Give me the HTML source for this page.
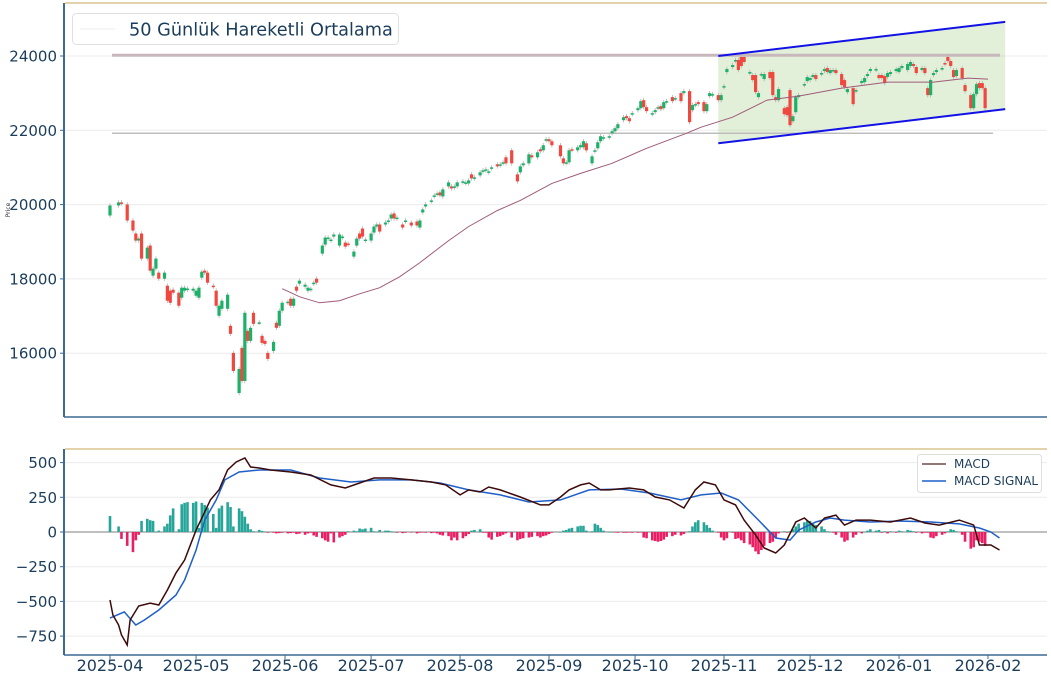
<!DOCTYPE html>
<html><head><meta charset="utf-8">
<style>
html,body{margin:0;padding:0;background:#fff;}
svg{display:block;font-family:"DejaVu Sans","Liberation Sans",sans-serif;}
</style></head>
<body>
<svg id="chart" width="1051" height="678" viewBox="0 0 1051 678" xmlns="http://www.w3.org/2000/svg">
  <g id="price-panel"></g>
  <g id="macd-panel"></g>
</svg>
<script>
// ---- data (days since 2025-04-01) ----
const candleDays=[0,3,4,6,8,9,10,11,13,14,15,16,17,19,20,21,22,24,25,26,27,29,30,31,32,33,34,36,37,38,39,41,42,43,45,46,47,48,49,50,52,53,54,55,57,58,59,60,62,63,64,65,66,68,69,70,71,72,74,75,76,77,78,80,81,82,83,85,86,87,88,89,91,92,93,94,96,97,98,99,100,102,103,105,107,108,109,110,112,113,114,115,116,118,119,120,121,123,124,125,126,127,129,130,131,132,133,135,136,137,138,140,142,143,144,146,147,149,150,151,152,153,154,157,158,159,160,161,163,164,165,166,168,169,170,171,172,174,175,176,177,179,180,181,182,184,185,186,187,189,190,191,192,193,194,196,197,199,200,202,203,204,205,207,208,209,210,212,213,214,215,217,218,219,220,221,223,224,225,226,227,228,230,231,232,233,235,236,237,238,239,240,242,243,244,245,246,248,249,250,251,252,253,255,256,257,259,260,262,263,264,265,267,268,269,270,271,272,274,275,276,278,279,280,281,283,284,285,286,287,288,290,291,292,293,294,295,297,298,300,301,302,303,304,305];
const opens=[19707,19977,20058,20004,19572,19221,19032,19221,18546,18897,18087,18276,18168,18006,17817,17682,17709,17628,17493,17682,17709,17682,17547,17493,18033,18222,18168,17817,17682,17007,17196,17196,16737,16008,14928,16143,15252,16602,16332,17088,16818,16467,16332,16008,16062,16818,16737,17142,17358,17466,17277,17790,17871,17790,17682,17709,17871,18006,18681,18924,19086,19032,19140,18897,19113,18978,18951,18600,18897,19221,19356,19032,19032,19248,19410,19464,19464,19545,19626,19761,19626,19464,19545,19518,19545,19383,19788,19950,20085,20220,20274,20328,20220,20490,20490,20463,20490,20598,20571,20571,20814,20706,20787,20895,20922,20868,20976,21084,21057,21111,21273,21462,20814,20868,21057,21111,21327,21273,21489,21462,21732,21759,21705,21597,21246,21111,21138,21489,21462,21543,21543,21651,21111,21435,21516,21705,21786,21813,21921,21975,22056,22272,22380,22326,22434,22542,22596,22812,22623,22434,22488,22596,22650,22596,22758,22893,22839,23001,23001,23055,22542,22677,22758,22758,22515,22920,22947,22947,22812,23163,23568,23703,23865,23892,23973,23973,23541,23487,23487,22893,23487,23379,23568,23568,22893,22812,22596,22623,23082,22245,22488,22893,23217,23325,23352,23433,23487,23514,23595,23676,23541,23595,23622,23514,23352,23028,23136,23055,23271,23298,23460,23595,23622,23487,23487,23460,23433,23514,23595,23568,23676,23622,23730,23784,23703,23622,23676,23136,22947,23487,23568,23649,23811,23973,23865,23622,23460,23676,23217,22947,22596,22974,23271,23271,23136];
const closes=[19977,20058,20031,19572,19302,19032,19086,18546,18843,18222,18276,18546,18006,18168,17412,17358,17628,17277,17763,17763,17740,17736,17682,17763,18195,18168,17898,17790,17277,17277,17412,17574,16521,15522,15576,15252,17088,16332,16683,16791,16830,16278,16251,15846,16305,16683,17142,17358,17385,17277,17466,17682,17952,17844,17763,17736,17898,17898,18897,19113,19113,19059,19194,19194,19140,18870,18924,18735,19086,19086,19140,19059,19221,19410,19464,19275,19518,19572,19734,19626,19650,19383,19572,19437,19437,19572,19869,20004,20112,20247,20301,20247,20409,20598,20436,20490,20598,20625,20598,20652,20706,20733,20868,20922,20949,20895,21003,21030,21084,21138,21111,21111,20625,21030,21111,21354,21273,21408,21435,21597,21759,21705,21597,21300,21111,21138,21462,21462,21543,21597,21705,21462,21300,21462,21678,21840,21813,21840,21975,22056,22164,22353,22326,22245,22461,22596,22785,22623,22515,22461,22542,22623,22569,22758,22785,22785,22866,22785,23055,22218,22677,22704,22704,22515,22704,23001,22974,22812,22947,23190,23649,23757,23892,23622,23730,23838,23568,23352,23028,23001,23514,23514,23406,22947,22812,23109,22434,22407,22137,22380,22893,22947,23244,23433,23406,23487,23379,23541,23649,23568,23622,23622,23541,23217,23163,23109,22704,23082,23325,23406,23514,23649,23649,23406,23406,23271,23541,23568,23649,23676,23730,23784,23838,23730,23541,23676,23541,22947,23352,23541,23622,23676,23784,23865,23730,23433,23622,23406,23055,22596,22974,23244,23136,23136,22596];
const histValues=[115,40,-50,-100,-145,-60,-20,80,95,85,80,0,10,40,60,120,170,20,200,210,215,210,220,30,210,195,175,130,30,170,190,215,180,40,170,150,110,60,20,5,15,8,3,-5,-5,-10,-8,-5,-10,-8,-5,-15,-12,-20,-10,-5,-25,-35,-45,-60,-70,-10,-75,-40,-30,-20,5,10,5,25,20,25,30,5,0,15,10,10,5,0,-5,-8,-5,-3,-10,-5,-3,-5,-8,-5,-10,-20,-25,-30,-60,-40,-60,-45,-30,-15,10,15,20,-5,-5,-40,-55,-35,-30,-20,-10,-40,-60,-50,-45,-40,-35,-30,-40,-30,-25,-15,-5,0,10,15,25,30,40,45,45,10,5,60,50,30,10,0,0,-3,-5,-5,-5,-3,-5,-5,-3,-40,-45,-60,-65,-70,-65,-55,-35,-30,-20,-25,-15,5,40,70,85,70,50,30,10,-5,-40,-60,-45,-5,-50,-45,-60,-80,-90,-110,-140,-160,-130,-100,-80,-70,-40,-10,5,-5,5,20,40,60,70,80,80,60,50,40,20,5,0,-5,-20,-40,-70,-60,-40,-20,-10,0,10,20,10,15,-5,5,-10,5,-5,10,5,15,10,5,-5,-10,-5,-5,-40,-45,-30,-20,-10,5,20,15,5,-20,-70,-120,-110,-60,-70,-80,-100];
const maDays=[60,66,73,80,87,94,101,108,118,125,135,143,154,164,175,187,201,206,217,229,240,255,271,287,299,306];
const maValues=[17736,17520,17358,17412,17600,17763,18060,18440,19032,19410,19842,20112,20571,20841,21111,21516,21921,22083,22353,22812,22920,23136,23298,23298,23406,23379];
const macdDays=[0,1,3,4,6,7,10,14,17,20,23,26,30,35,38,41,44,47,49,52,56,63,70,77,82,87,92,98,105,112,117,122,125,129,132,136,143,150,153,157,160,164,167,171,174,181,186,190,195,200,204,207,211,214,218,221,225,228,232,235,239,242,246,249,253,256,260,265,272,279,284,289,296,301,303,307,310];
const macdValues=[-490,-598,-670,-742,-814,-634,-533,-512,-526,-418,-295,-202,14,231,303,447,504,533,468,461,447,432,411,339,317,353,389,389,375,360,339,267,303,288,324,303,252,195,195,252,303,339,353,303,303,317,303,252,231,173,303,360,339,231,195,86,-22,-115,-151,-94,72,101,29,101,122,50,86,86,72,101,65,50,86,50,-94,-94,-130];
const signalDays=[0,5,9,12,17,23,26,30,33,37,40,45,52,63,73,84,94,105,115,125,136,146,157,167,178,188,199,206,213,219,226,232,237,240,246,251,256,265,275,286,296,303,307,310];
const signalValues=[-620,-576,-670,-634,-562,-454,-346,-130,86,231,375,432,447,447,389,360,375,375,353,303,267,216,231,303,310,281,231,267,281,231,86,-43,-58,14,72,101,86,72,79,72,58,29,0,-43];
const priceTicks=[16000,18000,20000,22000,24000];
const macdTicks=[-750,-500,-250,0,250,500];
const monthLabels=["2025-04","2025-05","2025-06","2025-07","2025-08","2025-09","2025-10","2025-11","2025-12","2026-01","2026-02"];
const monthDays=[0,30,61,91,122,153,183,214,244,275,306];
const supportLevels=[24020,21920];
const channelDays=[212,312];
const channelUpper=[24000,24920];
const channelLower=[21650,22570];

// ---- axes ----
const NS="http://www.w3.org/2000/svg";
const X0=110, PXDAY=878/306;
const x=d=>X0+d*PXDAY;
const yP=v=>56+(24000-v)*74.3/2000;
const yM=v=>532-v*0.1388;
const AX="#3d6a94", TXT="#1b3d5c", GRID="#ececec";
function mk(parent,tag,attrs){const e=document.createElementNS(NS,tag);for(const k in attrs)e.setAttribute(k,attrs[k]);parent.appendChild(e);return e;}
const P=document.getElementById('price-panel');
const M=document.getElementById('macd-panel');

priceTicks.forEach(v=>{
  const g=mk(P,'line',{x1:65,x2:1047,y1:yP(v),y2:yP(v),stroke:GRID,'stroke-width':1});
  
  
  const t=mk(P,'line',{x1:60,x2:65,y1:yP(v),y2:yP(v),stroke:AX,'stroke-width':1});
  
  
  const l=mk(P,'text',{x:57,y:yP(v)+5.5,'text-anchor':'end','font-size':15,fill:TXT});
  l.textContent=v;
  
  
});
macdTicks.forEach(v=>{
  const g=mk(M,'line',{x1:65,x2:1047,y1:yM(v),y2:yM(v),stroke:v===0?'#999':GRID,'stroke-width':v===0?1.3:1});
  
  
  const t=mk(M,'line',{x1:60,x2:65,y1:yM(v),y2:yM(v),stroke:AX,'stroke-width':1});
  
  
  const l=mk(M,'text',{x:57,y:yM(v)+5.5,'text-anchor':'end','font-size':15,fill:TXT});
  l.textContent=v<0?'\u2212'+Math.abs(v):v;
  
  
});

{
  const pts=[[x(channelDays[0]),yP(channelUpper[0])],[x(channelDays[1]),yP(channelUpper[1])],[x(channelDays[1]),yP(channelLower[1])],[x(channelDays[0]),yP(channelLower[0])]];
  const poly=mk(P,'polygon',{points:pts.map(p=>p.join(',')).join(' '),fill:'rgba(150,200,120,0.28)',stroke:'none'});
  
  
}
supportLevels.forEach((v,i)=>{
  const l=mk(P,'line',{x1:112,x2:i===0?1000:993,y1:yP(v),y2:yP(v),stroke:i===0?'#c8b8bc':'#bdbdbd','stroke-width':i===0?3:1.5});
  
  
});

const up='#1db068', dn='#f0473f';
for(let i=0;i<candleDays.length;i++){
  const o=opens[i], c=closes[i], cx=x(candleDays[i]);
  const col=c>=o?up:dn;
  const hi=Math.max(o,c)+60, lo=Math.min(o,c)-60;
  const w=mk(P,'line',{x1:cx,x2:cx,y1:yP(hi),y2:yP(lo),stroke:'#b0b0b0','stroke-width':0.8});
  
  
  const top=yP(Math.max(o,c)), h=Math.max(1.5,yP(Math.min(o,c))-top);
  const r=mk(P,'rect',{x:cx-1.6,y:top,width:3.2,height:h,fill:col});
  
  
}
{
  const d=maDays.map((dd,i)=>(i?'L':'M')+x(dd).toFixed(1)+','+yP(maValues[i]).toFixed(1)).join('');
  const p=mk(P,'path',{d:d,fill:'none',stroke:'#a05a7a','stroke-width':1});
  
  
}
[channelUpper,channelLower].forEach((arr,i)=>{
  const l=mk(P,'line',{x1:x(channelDays[0]),x2:x(channelDays[1]),y1:yP(arr[0]),y2:yP(arr[1]),stroke:'#1212e6','stroke-width':2});
  
  
});

for(let i=0;i<candleDays.length;i++){
  const v=histValues[i], cx=x(candleDays[i]);
  const y1=yM(Math.max(v,0)), y2=yM(Math.min(v,0));
  const r=mk(M,'rect',{x:cx-1.3,y:y1,width:2.6,height:Math.max(0.5,y2-y1),fill:v>=0?'#26a69a':'#e91e63'});
  
  
}
function line(days,vals,color,name){
  const d=days.map((dd,i)=>(i?'L':'M')+x(dd).toFixed(1)+','+yM(vals[i]).toFixed(1)).join('');
  const p=mk(M,'path',{d:d,fill:'none',stroke:color,'stroke-width':1.5});
  
  
}
line(signalDays,signalValues,'#1f5fc8','macd-signal-line');
line(macdDays,macdValues,'#3d0a0a','macd-line');

[[P,3,417],[M,449,655]].forEach(([g,t,b])=>{
  const s1=mk(g,'line',{x1:65,x2:1047,y1:t,y2:t,stroke:'#e2d3ab','stroke-width':2});
  
  
  const s2=mk(g,'line',{x1:64,x2:64,y1:t,y2:b,stroke:AX,'stroke-width':2});
  
  
  const s3=mk(g,'line',{x1:64,x2:1047,y1:b,y2:b,stroke:AX,'stroke-width':1.5});
  
  
});
monthLabels.forEach((m,i)=>{
  const cx=x(monthDays[i]);
  const t=mk(M,'line',{x1:cx,x2:cx,y1:655,y2:659,stroke:AX,'stroke-width':1});
  
  
  const l=mk(M,'text',{x:cx,y:671,'text-anchor':'middle','font-size':16,fill:TXT});
  l.textContent=m;
  
  
});
{
  const t=mk(P,'text',{x:10,y:210,'font-size':6,fill:'#333',transform:'rotate(-90 10 210)','text-anchor':'middle'});
  t.textContent='Price';
  
  
}
{
  const g=mk(P,'g',{});
  
  
  mk(g,'rect',{x:72.5,y:13.5,width:326,height:31,rx:4,fill:'#fff',stroke:'#e0e0e0','stroke-width':1});
  mk(g,'line',{x1:80,x2:115,y1:29,y2:29,stroke:'#eee','stroke-width':1});
  const t=mk(g,'text',{x:129,y:35.5,'font-size':17.7,fill:TXT});
  t.textContent='50 Günlük Hareketli Ortalama';
  
  
}
{
  const g=mk(M,'g',{});
  
  
  mk(g,'rect',{x:917.5,y:454.5,width:124,height:38,rx:3,fill:'#fff',stroke:'#dedede','stroke-width':1});
  mk(g,'line',{x1:922,x2:946,y1:464,y2:464,stroke:'#6b4a48','stroke-width':1.5});
  mk(g,'line',{x1:922,x2:946,y1:481,y2:481,stroke:'#1f5fc8','stroke-width':1.5});
  const a=mk(g,'text',{x:954,y:468,'font-size':12,fill:TXT});a.textContent='MACD';
  
  
  const b=mk(g,'text',{x:954,y:485,'font-size':12,fill:TXT});b.textContent='MACD SIGNAL';
  
  
}
</script>
</body></html>
